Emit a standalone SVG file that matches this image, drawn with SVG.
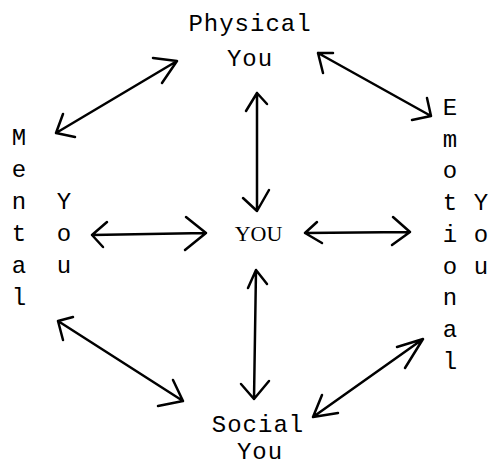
<svg xmlns="http://www.w3.org/2000/svg" width="491" height="465" viewBox="0 0 491 465">
<style>
.t{font-family:"Courier New","Liberation Mono",monospace;font-size:24px;fill:#000;text-anchor:middle}
.w{letter-spacing:1px}
.c{font-family:"Liberation Serif","Times New Roman",serif;font-size:22px;fill:#000;text-anchor:middle}
.a{stroke:#000;stroke-width:2.5;fill:none;stroke-linecap:round;stroke-linejoin:round}
</style>
<rect width="491" height="465" fill="#fff"/>
<g id="physical"><text class="t w" x="250" y="31">Physical</text><text class="t w" x="250" y="66">You</text></g>
<g id="social"><text class="t w" x="258" y="432">Social</text><text class="t w" x="260" y="459">You</text></g>
<g id="you"><text class="c" x="258.5" y="241">YOU</text></g>
<g id="mental">
<text class="t" x="19" y="145">M</text><text class="t" x="19" y="177">e</text><text class="t" x="19" y="209">n</text><text class="t" x="19" y="241">t</text><text class="t" x="19" y="273">a</text><text class="t" x="19" y="305">l</text>
<text class="t" x="64" y="209">Y</text><text class="t" x="64" y="241">o</text><text class="t" x="64" y="273">u</text>
</g>
<g id="emotional">
<text class="t" x="450" y="115">E</text><text class="t" x="450" y="147">m</text><text class="t" x="450" y="178">o</text><text class="t" x="450" y="210">t</text><text class="t" x="450" y="242">i</text><text class="t" x="450" y="274">o</text><text class="t" x="450" y="305">n</text><text class="t" x="450" y="337">a</text><text class="t" x="450" y="369">l</text>
<text class="t" x="481" y="210">Y</text><text class="t" x="481" y="242">o</text><text class="t" x="481" y="274">u</text>
</g>
<g id="connectors">
<path class="a" d="M177,61 L56,133 M153,58 L177,61 L162,83 M63,114 L56,133 L75,137"/>
<path class="a" d="M318,53 L431,116 M333,53 L318,53 L323,73 M427,98 L431,116 L412,120"/>
<path class="a" d="M58,321 L183,401 M73,317 L58,321 L63,340 M173,380 L183,401 L158,406"/>
<path class="a" d="M423,339 L313,417 M397,347 L423,339 L405,368 M322,395 L313,417 L338,413"/>
<path class="a" d="M257,93 L257,211 M246,111 L257,93 L267,104 M243,198 L257,211 L269,190"/>
<path class="a" d="M256,270 L254,399 M248,288 L256,270 L267,284 M241,384 L254,399 L269,381"/>
<path class="a" d="M92,235 L206,233 M107,222 L92,235 L103,247 M186,217 L206,233 L185,250"/>
<path class="a" d="M305,233 L410,232 M317,222 L305,233 L322,243 M393,217 L410,232 L392,245"/>
</g>
</svg>
